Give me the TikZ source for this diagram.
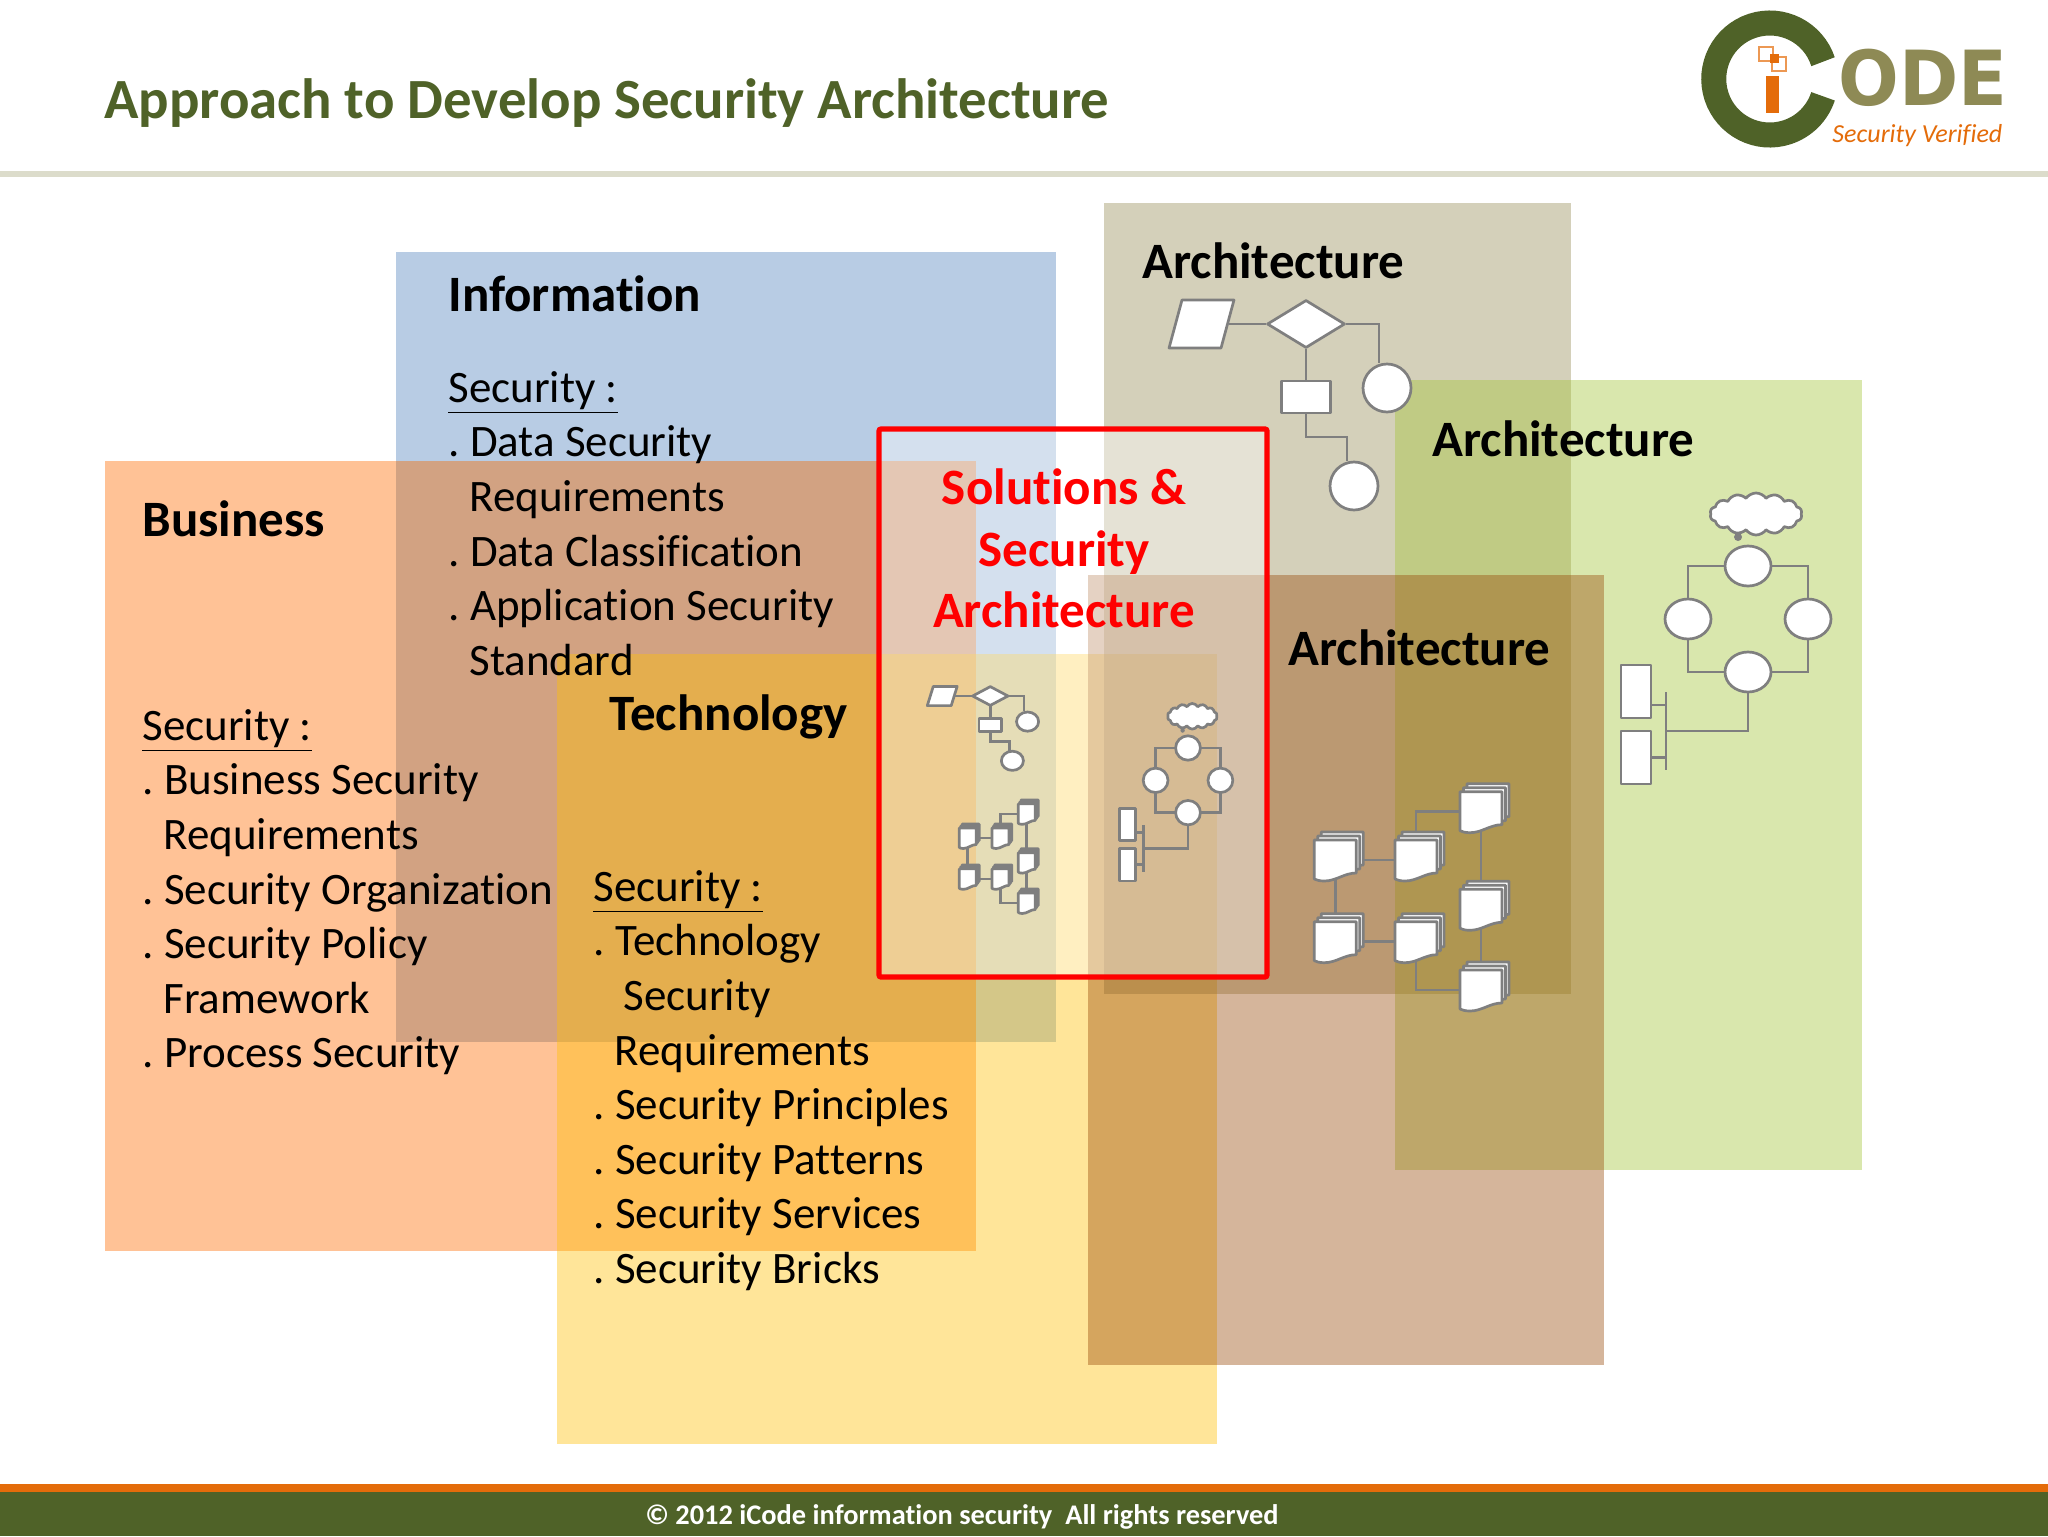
\documentclass[tikz,border=0pt]{standalone}
\usepackage{fontspec}
\setmainfont{Carlito}[Ligatures=NoCommon]
\newfontfamily\logofont{DejaVu Sans}
\usetikzlibrary{shapes.geometric,shapes.symbols}
\definecolor{titlegreen}{HTML}{4F6228}
\definecolor{rulegrey}{HTML}{DCDCCB}
\definecolor{barorange}{HTML}{E46C0A}
\definecolor{linegrey}{HTML}{7F7F7F}
\definecolor{logokhaki}{HTML}{8E8A55}
\definecolor{pbus}{HTML}{FF9040}
\definecolor{pinf}{HTML}{4F81BD}
\definecolor{ptec}{HTML}{FFC000}
\definecolor{pkha}{HTML}{948A54}
\definecolor{pgre}{HTML}{A2C534}
\definecolor{pbro}{HTML}{974706}
\newcommand\docstack[2]{%
  \foreach \o/\p in {7/-8,3.5/-4,0/0}{%
    \path[gshape,shift={(#1+\o,#2+\p)}] (0,0) -- (42,0) -- (42,33)
      .. controls (30,33) and (22,41) .. (10,41)
      .. controls (5,41) and (2,40) .. (0,39) -- cycle;
  }%
}
\newcommand\docnode[3]{\node[inner sep=0pt,outer sep=0pt,minimum width=21pt,minimum height=20pt] (#1) at (#2+21,#3+20) {};}
\newcommand\dt{.\hspace{5.2pt}}
\tikzset{
  gshape/.style={draw=linegrey,line width=1.35pt,fill=white,line join=round},
  gline/.style={draw=linegrey,line width=1.35pt},
  body/.style={anchor=north west,inner sep=0pt,align=left,font=\fontsize{22.5}{27.3}\selectfont,text=black},
  head/.style={anchor=base west,inner sep=0pt,font=\fontsize{25.5}{29}\selectfont\bfseries,text=black},
  redhead/.style={anchor=base,inner sep=0pt,font=\fontsize{25.5}{29}\selectfont\bfseries,text=red},
  flowA/.pic={
    \node[gshape,diamond,aspect=1.625,inner sep=0pt,minimum width=39pt,minimum height=24pt] (-dia) at (0,0) {};
    \node[gshape,inner sep=0pt,minimum width=26pt,minimum height=24pt,xslant=.27] (-par) at (-104.5,0) {};
    \node[gshape,inner sep=0pt,minimum width=24.5pt,minimum height=16pt] (-box) at (0,73) {};
    \node[gshape,circle,inner sep=0pt,minimum size=24pt] (-c1) at (81,64) {};
    \node[gshape,circle,inner sep=0pt,minimum size=24pt] (-c2) at (48,162) {};
    \coordinate (-k1) at (73,0);
    \coordinate (-k2) at (41,113);
    \draw[gline] (-par.east) -- (-dia.west);
    \draw[gline] (-dia.east) -- (-k1) -- (-k1 |- -c1.north);
    \draw[gline] (-dia.south) -- (-box.north);
    \draw[gline] (-box.south) |- (-k2) -- (-k2 |- -c2.north);
  },
  flowB/.pic={
    \node[gshape,ellipse,inner sep=0pt,minimum width=23pt,minimum height=20pt] (-t) at (0,0) {};
    \node[gshape,ellipse,inner sep=0pt,minimum width=23pt,minimum height=20pt] (-l) at (-60,53) {};
    \node[gshape,ellipse,inner sep=0pt,minimum width=23pt,minimum height=20pt] (-r) at (60,53) {};
    \node[gshape,ellipse,inner sep=0pt,minimum width=23pt,minimum height=20pt] (-b) at (0,106) {};
    \node[gshape,cloud,cloud puffs=14,cloud puff arc=110,aspect=2.2,inner sep=0pt,minimum width=46pt,minimum height=21pt] (-cl) at (8,-52) {};
    \node[fill=linegrey,circle,inner sep=0pt,minimum size=4pt] (-tail) at (-10,-29) {};
    \node[gshape,inner sep=0pt,minimum width=15pt,minimum height=26.5pt] (-n1) at (-112,125.5) {};
    \node[gshape,inner sep=0pt,minimum width=15pt,minimum height=26.5pt] (-n2) at (-112,191.5) {};
    \coordinate (-barA) at (-82,126);
    \coordinate (-barB) at (-82,204);
    \coordinate (-jn) at (-82,165);
    \coordinate (-s1) at (-82,139);
    \draw[gline] (-barA) -- (-barB);
    \draw[gline] (-s1) -- (-s1 -| -n1.east);
    \draw[gline] (-n2.east) -- (-n2.east -| -jn);
    \draw[gline] (-b.south) |- (-jn);
    \draw[gline] (-t.west) -| (-l.north);
    \draw[gline] (-t.east) -| (-r.north);
    \draw[gline] (-b.west) -| (-l.south);
    \draw[gline] (-b.east) -| (-r.south);
  },
  flowC/.pic={
    \docnode{-d1}{0}{0}
    \docnode{-d2}{80.7}{0}
    \docnode{-d3}{0}{81.7}
    \docnode{-d4}{80.7}{81.7}
    \docnode{-d5}{145.7}{-48.3}
    \docnode{-d6}{145.7}{49.3}
    \docnode{-d7}{145.7}{130}
    \draw[gline] (-d1.center) -- (-d2.center);
    \draw[gline] (-d1.center) -- (-d3.center);
    \draw[gline] (-d3.center) -- (-d4.center);
    \draw[gline] (-d2.center) |- (-d5.center);
    \draw[gline] (-d5.center) -- (-d6.center);
    \draw[gline] (-d6.center) -- (-d7.center);
    \draw[gline] (-d4.center) |- (-d7.center);
    \docstack{0}{0}\docstack{80.7}{0}\docstack{0}{81.7}\docstack{80.7}{81.7}
    \docstack{145.7}{-48.3}\docstack{145.7}{49.3}\docstack{145.7}{130}
  },
}
\begin{document}
\begin{tikzpicture}[x=.5pt,y=-.5pt]
\useasboundingbox (0,0) rectangle (2048,1536);
\fill[white] (0,0) rectangle (2048,1536);
% header
\fill[rulegrey] (0,171) rectangle (2048,177);
\node[anchor=base west,inner sep=0pt,font=\fontsize{28.4}{32}\selectfont\bfseries,text=titlegreen] (title) at (104,118.5) {Approach to Develop Security Architecture};
% logo
\draw[line width=12.5pt,titlegreen] (1823,61.7) arc[start angle=18,end angle=342,radius=28pt];
\fill[barorange] (1766,76) rectangle (1779,113);
\draw[barorange!70,line width=.8pt] (1759,47) rectangle (1773,61);
\draw[barorange!70,line width=.8pt] (1772,57) rectangle (1786,71);
\fill[barorange] (1770,54) rectangle (1779,63);
\node[anchor=base west,inner sep=0pt,xscale=.94,font=\logofont\bfseries\fontsize{38}{40}\selectfont,text=logokhaki] (logoode) at (1838,105) {ODE};
\node[anchor=base west,inner sep=0pt,font=\itshape\fontsize{13}{15}\selectfont,text=barorange] (logosub) at (1832,142) {Security Verified};
% panels
\fill[pinf,opacity=.4] (396,252) rectangle (1056,1042);
\fill[pbus,opacity=.55] (104.5,461) rectangle (976,1251);
\fill[black,opacity=.05] (396,461) rectangle (976,1042);
\fill[ptec,opacity=.4] (557,654) rectangle (1217,1444);
\fill[pkha,opacity=.4] (1104,203) rectangle (1571,994);
\fill[pgre,opacity=.4] (1395,380) rectangle (1862,1170);
\fill[pbro,opacity=.4] (1088,575) rectangle (1604,1365);
\draw[red,line width=2.6pt,fill=white,fill opacity=.4,rounded corners=1pt] (879,429) rectangle (1267,977);
% footer
\fill[barorange] (0,1484) rectangle (2048,1492);
\fill[titlegreen] (0,1492) rectangle (2048,1536);
\node[anchor=base,inner sep=0pt,font=\fontsize{14.2}{16}\selectfont\bfseries,text=white] (foot) at (962,1524) {© 2012 iCode information security\ \ All rights reserved};
% headings
\node[head] (hinf) at (448,311) {Information};
\node[head] (hbus) at (142,536) {Business};
\node[head] (htec) at (609,730) {Technology};
\node[head] (ha1) at (1142,278) {Architecture};
\node[head] (ha2) at (1432,456) {Architecture};
\node[head] (ha3) at (1288,665) {Architecture};
\node[redhead] (r1) at (1064,504) {Solutions \&};
\node[redhead] (r2) at (1064,566) {Security};
\node[redhead] (r3) at (1064,627) {Architecture};
% bodies
\node[body] (binf) at (448,371) {\underline{Security :}\\\dt Data Security\\\hspace*{10.5pt}Requirements\\\dt Data Classification\\\dt Application Security\\\hspace*{10.5pt}Standard};
\node[body] (bbus) at (142,709) {\underline{Security :}\\\dt Business Security\\\hspace*{10.5pt}Requirements\\\dt Security Organization\\\dt Security Policy\\\hspace*{10.5pt}Framework\\\dt Process Security};
\node[body] (btec) at (593,870) {\underline{Security :}\\\dt Technology\\\hspace*{15pt}Security\\\hspace*{10.5pt}Requirements\\\dt Security Principles\\\dt Security Patterns\\\dt Security Services\\\dt Security Bricks};
% graphics
\pic (fa) at (1306,324) {flowA};
\pic (fb) at (1748,566) {flowB};
\pic (fc) at (1314.3,840) {flowC};
\pic[xscale=.46,yscale=.40,transform shape] (sa) at (990.3,696) {flowA};
\pic[xscale=.54,yscale=.61,transform shape] (sb) at (1188,748) {flowB};
\pic[xscale=.405,yscale=.5,transform shape] (sc) at (959.3,828) {flowC};
\end{tikzpicture}
\end{document}
